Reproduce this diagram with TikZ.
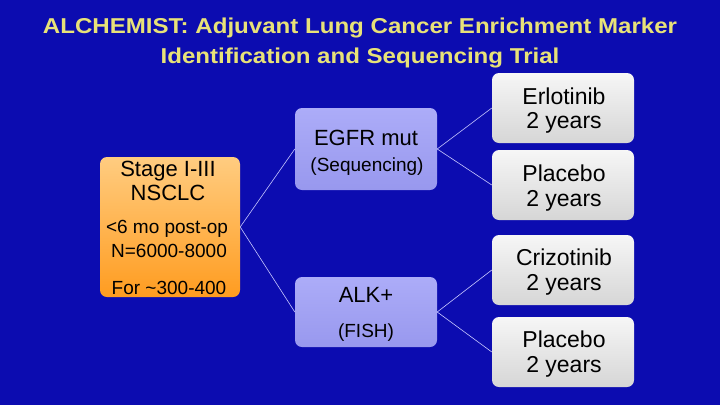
\documentclass[tikz,border=0pt]{standalone}
\usepackage{fontspec}
\setmainfont{Liberation Sans}
\definecolor{slidebg}{RGB}{12,12,176}
\definecolor{titleyellow}{RGB}{232,226,120}
\definecolor{orangetop}{RGB}{255,204,128}
\definecolor{orangebot}{RGB}{255,156,32}
\definecolor{lavtop}{RGB}{172,172,248}
\definecolor{lavbot}{RGB}{152,152,238}
\definecolor{greytop}{RGB}{246,246,246}
\definecolor{greybot}{RGB}{214,214,214}
\definecolor{linkcol}{RGB}{200,200,255}
\tikzset{
  box/.style={rounded corners=7pt, inner sep=0pt},
  stagebox/.style={box, top color=orangetop, bottom color=orangebot,
    minimum width=140pt, minimum height=140pt},
  markerbox/.style={box, top color=lavtop, bottom color=lavbot, minimum width=142pt},
  armbox/.style={box, top color=greytop, bottom color=greybot,
    minimum width=142pt, minimum height=70pt},
  link/.style={draw=linkcol, line width=0.6pt},
  txt/.style={anchor=base, inner sep=0pt},
  big/.style={txt, font=\fontsize{22}{26}\selectfont},
  small/.style={txt, font=\fontsize{19}{23}\selectfont},
  arm/.style={txt, font=\fontsize{23}{27}\selectfont},
  title/.style={txt, text=titleyellow,
    font=\fontsize{21.5}{25}\selectfont\bfseries\addfontfeature{FakeStretch=1.12}}
}
\begin{document}
\begin{tikzpicture}[x=1pt,y=-1pt]
  \fill[slidebg] (0,0) rectangle (720,405);
  \useasboundingbox (0,0) rectangle (720,405);
  % title
  \node[title] (title1) at (360,33) {ALCHEMIST: Adjuvant Lung Cancer Enrichment Marker};
  \node[title] (title2) at (360,63) {Identification and Sequencing Trial};
  % boxes
  \node[stagebox] (stage) at (170,227) {};
  \node[markerbox, minimum height=82pt] (egfr) at (366,149) {};
  \node[markerbox, minimum height=70pt] (alk) at (366,312) {};
  \node[armbox] (erlo) at (563,108) {};
  \node[armbox] (plac1) at (563,185) {};
  \node[armbox] (crizo) at (563,270) {};
  \node[armbox] (plac2) at (563,352) {};
  % texts
  \node[big] (stage1) at (168,176) {Stage I-III};
  \node[big] (stage2) at (168,200) {NSCLC};
  \node[small] (stage3) at (167,233) {<6 mo post-op};
  \node[small] (stage4) at (169,257) {N=6000-8000};
  \node[small] (stage5) at (169,294) {For \textasciitilde300-400};
  \node[big] (egfr1) at (366,145) {EGFR mut};
  \node[small] (egfr2) at (367,171) {(Sequencing)};
  \node[big] (alk1) at (366,302) {ALK+};
  \node[small] (alk2) at (366,337) {(FISH)};
  \node[arm] (erlo1) at (564,104) {Erlotinib};
  \node[arm] (erlo2) at (564,128) {2 years};
  \node[arm] (plac11) at (564,181) {Placebo};
  \node[arm] (plac12) at (564,206) {2 years};
  \node[arm] (crizo1) at (564,265) {Crizotinib};
  \node[arm] (crizo2) at (564,290) {2 years};
  \node[arm] (plac21) at (564,347) {Placebo};
  \node[arm] (plac22) at (564,372) {2 years};
  % links
  \begin{scope}[link]
    \draw (stage.east) to (egfr.west);
    \draw (stage.east) to (alk.west);
    \draw (egfr.east) to (erlo.west);
    \draw (egfr.east) to (plac1.west);
    \draw (alk.east) to (crizo.west);
    \draw (alk.east) to (plac2.west);
  \end{scope}
\end{tikzpicture}
\end{document}
